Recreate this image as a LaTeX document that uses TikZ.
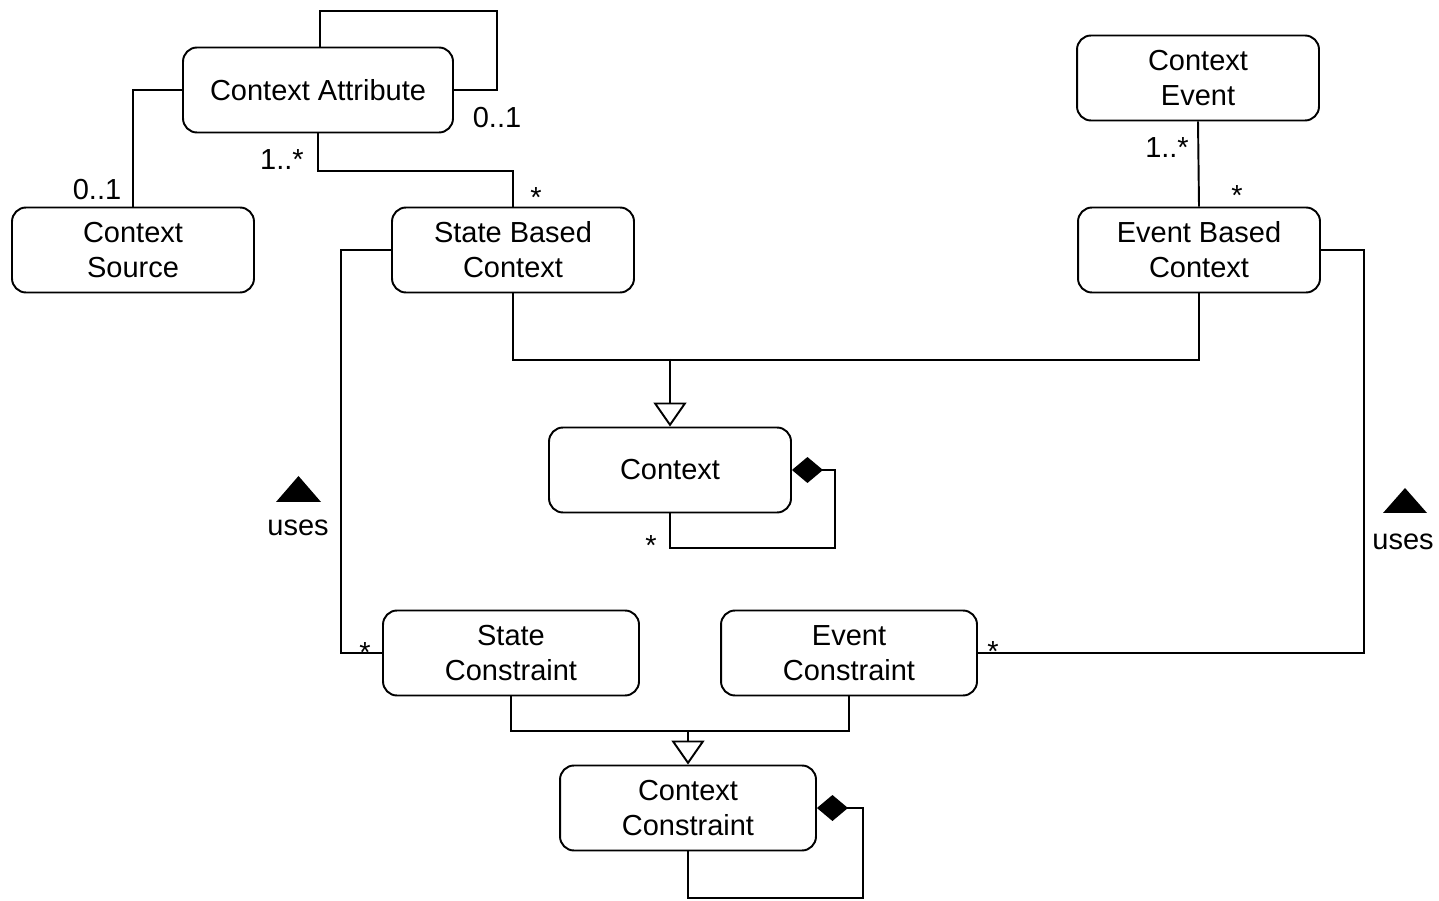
\documentclass[tikz,border=0pt]{standalone}
\usepackage{fontspec}
\setmainfont{Liberation Sans}
\usetikzlibrary{arrows.meta}
\begin{document}
\begin{tikzpicture}[x=0.02cm,y=-0.02cm, line width=1.1pt,
  cls/.style={draw, rounded corners=0.28cm, minimum width=4.84cm, minimum height=1.7cm,
    align=center, font=\fontsize{16.5}{20}\selectfont, inner sep=0pt},
  lbl/.style={anchor=base, font=\fontsize{16.5}{20}\selectfont, inner sep=0pt},
  gen/.style={-{Triangle[open, width=0.66cm, length=0.48cm, line width=1.1pt]}},
  comp/.style={{Diamond[width=0.52cm, length=0.62cm]}-},
  usesmark/.style={fill=black, draw=none}]
\useasboundingbox (0,0) rectangle (1439,901);

% classes
\node[cls, minimum width=5.4cm] (attr) at (318,90) {Context Attribute};
\node[cls] (src) at (133,250) {Context\\Source};
\node[cls] (sbc) at (513,250) {State Based\\Context};
\node[cls] (cev) at (1198,78) {Context\\Event};
\node[cls] (ebc) at (1199,250) {Event Based\\Context};
\node[cls] (ctx) at (670,470) {Context};
\node[cls, minimum width=5.12cm] (sc) at (511,653) {State\\Constraint};
\node[cls, minimum width=5.12cm] (ec) at (849,653) {Event\\Constraint};
\node[cls, minimum width=5.12cm] (cc) at (688,808) {Context\\Constraint};

% Context Attribute associations
\draw ([xshift=0.04cm]attr.north) |- (497,11) |- (attr.east);
\draw (attr.west) -| (src.north);
\draw (attr.south) -- ++(0,38) -| (sbc.north);
\draw (cev.south) -- (ebc.north);

% generalization to Context
\draw (sbc.south) -- ++(0,67) -| (ebc.south);
\coordinate (j1) at (670,359);
\draw[gen] (j1) -- (ctx.north);

% Context composition self loop
\draw[comp] (ctx.east) -| (835,548) -| (ctx.south);

% uses associations
\draw (sbc.west) -- ++(-50,0) |- (sc.west);
\draw (ebc.east) -- ++(43,0) |- (ec.east);

% generalization to Context Constraint
\draw (sc.south) -- ++(0,35) -| (ec.south);
\coordinate (j2) at (688,731);
\draw[gen] (j2) -- (cc.north);

% Context Constraint composition self loop
\draw[comp] (cc.east) -| (863,898) -| (cc.south);

% multiplicities
\node[lbl] (m1) at (497,128) {0..1};
\node[lbl] (m2) at (97,200) {0..1};
\node[lbl] (m3) at (282,170) {1..*};
\node[lbl] (m4) at (536,208) {*};
\node[lbl] (m5) at (1167,158) {1..*};
\node[lbl] (m6) at (1237,206) {*};
\node[lbl] (m7) at (651,556) {*};
\node[lbl] (m8) at (365,662) {*};
\node[lbl] (m9) at (993,661) {*};

% uses labels
\fill[usesmark] (276,502) -- (321,502) -- (298.5,476) -- cycle;
\node[lbl] (u1) at (298,536) {uses};
\fill[usesmark] (1383,513) -- (1427,513) -- (1405,488) -- cycle;
\node[lbl] (u2) at (1403,549) {uses};
\end{tikzpicture}
\end{document}
